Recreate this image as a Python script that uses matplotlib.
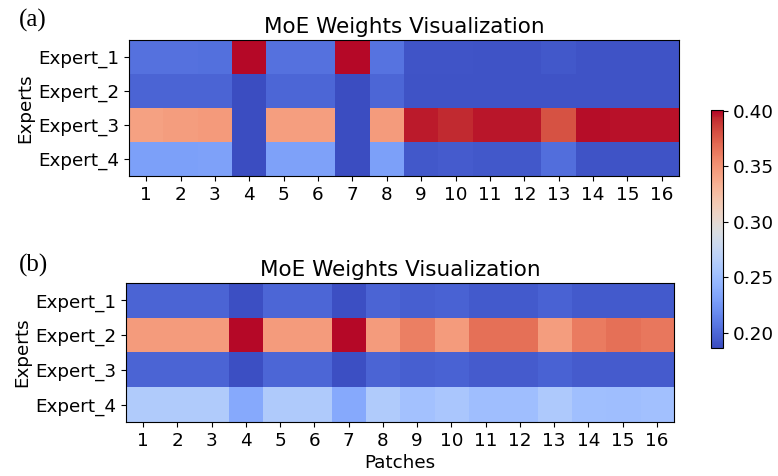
import numpy as np
import matplotlib
matplotlib.use("Agg")
import matplotlib.pyplot as plt
from matplotlib.colors import Normalize

# expert / patch labels
experts = ["Expert_1", "Expert_2", "Expert_3", "Expert_4"]
patches = [str(i) for i in range(1, 17)]

# (a) gate weights, one list per expert (patches 1..16)
a_expert1 = [0.205, 0.205, 0.204, 0.400, 0.205, 0.205, 0.400, 0.206, 0.191, 0.191, 0.190, 0.190, 0.192, 0.190, 0.190, 0.190]
a_expert2 = [0.198, 0.198, 0.198, 0.187, 0.199, 0.199, 0.187, 0.199, 0.190, 0.190, 0.190, 0.190, 0.190, 0.190, 0.190, 0.190]
a_expert3 = [0.343, 0.345, 0.347, 0.187, 0.344, 0.344, 0.187, 0.346, 0.396, 0.393, 0.397, 0.397, 0.380, 0.399, 0.398, 0.398]
a_expert4 = [0.230, 0.230, 0.231, 0.187, 0.231, 0.231, 0.187, 0.230, 0.192, 0.194, 0.192, 0.192, 0.203, 0.190, 0.190, 0.190]

# (b) gate weights
b_expert1 = [0.198, 0.198, 0.198, 0.188, 0.199, 0.199, 0.188, 0.198, 0.196, 0.197, 0.193, 0.193, 0.197, 0.193, 0.193, 0.193]
b_expert2 = [0.346, 0.346, 0.346, 0.400, 0.346, 0.346, 0.400, 0.346, 0.360, 0.346, 0.367, 0.367, 0.345, 0.362, 0.367, 0.364]
b_expert3 = [0.198, 0.198, 0.198, 0.188, 0.199, 0.199, 0.188, 0.198, 0.196, 0.197, 0.194, 0.194, 0.197, 0.194, 0.194, 0.194]
b_expert4 = [0.262, 0.262, 0.262, 0.236, 0.261, 0.261, 0.236, 0.262, 0.254, 0.258, 0.251, 0.251, 0.260, 0.252, 0.251, 0.253]

weights_a = np.array([a_expert1, a_expert2, a_expert3, a_expert4])
weights_b = np.array([b_expert1, b_expert2, b_expert3, b_expert4])

norm = Normalize(vmin=0.186, vmax=0.401)

fig = plt.figure(figsize=(7.78, 4.76), dpi=100)

ax1 = fig.add_axes([0.1658, 0.6303, 0.7069, 0.2857])
ax2 = fig.add_axes([0.1620, 0.1134, 0.7044, 0.2920])
cax = fig.add_axes([0.9139, 0.2689, 0.0154, 0.5000])

for ax, w in [(ax1, weights_a), (ax2, weights_b)]:
    im = ax.imshow(w, cmap="coolwarm", norm=norm, aspect="auto")
    ax.set_xticks(range(len(patches)))
    ax.set_xticklabels(patches)
    ax.set_yticks(range(len(experts)))
    ax.set_yticklabels(experts)
    ax.tick_params(labelsize=13.2)
    ax.set_ylabel("Experts", fontsize=13.2, labelpad=3)
    ax.set_title("MoE Weights Visualization", fontsize=15.5, pad=5)

ax2.set_xlabel("Patches", fontsize=13.2, labelpad=3)

cb = fig.colorbar(im, cax=cax)
cb.set_ticks([0.20, 0.25, 0.30, 0.35, 0.40])
cb.ax.tick_params(labelsize=13.2)

# panel letters
fig.text(0.024, 0.956, "(a)", family="Liberation Serif", fontsize=18, va="center")
fig.text(0.024, 0.443, "(b)", family="Liberation Serif", fontsize=18, va="center")

fig.savefig("out.png", dpi=100)
